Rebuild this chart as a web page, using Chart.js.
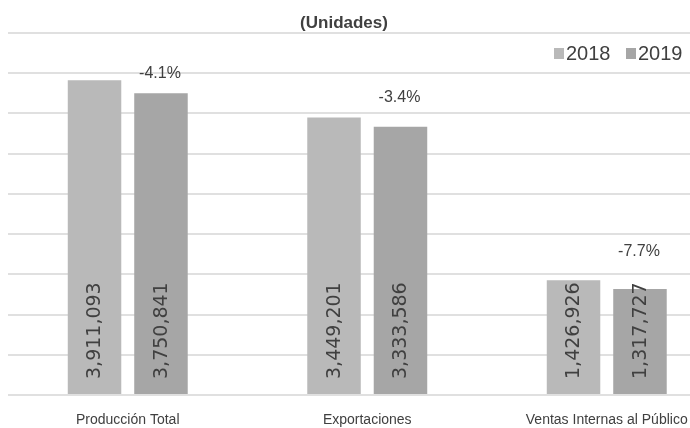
<!DOCTYPE html>
<html>
<head>
<meta charset="utf-8">
<script src="https://cdn.jsdelivr.net/npm/chart.js@4/dist/chart.umd.min.js"></script>
<style>
  html, body { margin: 0; padding: 0; background: #fff; overflow: hidden; }
  #wrap { width: 690px; height: 428px; overflow: hidden; position: relative; }
</style>
</head>
<body>
<div id="wrap">
  <canvas id="chart" width="730" height="428"></canvas>
</div>
<script>
// Datos del gráfico (unidades)
const categories = ["Producción Total", "Exportaciones", "Ventas Internas al Público"];
const seriesNames = ["2018", "2019"];
const values2018 = [3911093, 3449201, 1426926];
const values2019 = [3750841, 3333586, 1317727];
const changeLabels = ["-4.1%", "-3.4%", "-7.7%"];
const seriesColors = ["#b9b9b9", "#a6a6a6"];

const textColor = "#404040";

// Etiquetas dentro de las barras, porcentajes, título y leyenda
const annotations = {
  id: "annotations",
  afterDatasetsDraw(chart, args, opts) {
    const ctx = chart.ctx;
    ctx.save();

    // valores rotados dentro de cada barra
    ctx.font = "19px 'DejaVu Sans'";
    ctx.fillStyle = textColor;
    ctx.textAlign = "left";
    ctx.textBaseline = "middle";
    chart.data.datasets.forEach((ds, i) => {
      chart.getDatasetMeta(i).data.forEach((bar, j) => {
        ctx.save();
        ctx.translate(bar.x, bar.base - 15);
        ctx.rotate(-Math.PI / 2);
        ctx.fillText(ds.data[j].toLocaleString("en-US"), 0, 1);
        ctx.restore();
      });
    });

    // variación porcentual sobre la barra 2019
    ctx.font = "16px 'Liberation Sans'";
    ctx.textAlign = "center";
    ctx.textBaseline = "middle";
    chart.getDatasetMeta(1).data.forEach((bar, j) => {
      ctx.fillText(changeLabels[j], bar.x - 1, bar.y - opts.pctOffsets[j]);
    });

    // título
    ctx.font = "bold 17px 'Liberation Sans'";
    ctx.fillText("(Unidades)", 344, 23);

    // leyenda
    ctx.font = "20px 'Liberation Sans'";
    ctx.textAlign = "left";
    let x = 554;
    chart.data.datasets.forEach((ds) => {
      ctx.fillStyle = ds.backgroundColor;
      ctx.fillRect(x, 48, 10, 11);
      ctx.fillStyle = textColor;
      ctx.fillText(ds.label, x + 12, 54);
      x += 72;
    });

    ctx.restore();
  },
};

new Chart(document.getElementById("chart"), {
  type: "bar",
  data: {
    labels: categories,
    datasets: [
      { label: seriesNames[0], data: values2018, backgroundColor: seriesColors[0] },
      { label: seriesNames[1], data: values2019, backgroundColor: seriesColors[1] },
    ],
  },
  options: {
    responsive: false,
    animation: false,
    events: [],
    categoryPercentage: 0.555,
    barPercentage: 0.805,
    layout: { padding: { top: 33, left: 8, right: 3.5, bottom: 0 } },
    plugins: {
      legend: { display: false },
      title: { display: false },
      tooltip: { enabled: false },
      annotations: { pctOffsets: [20, 29, 37] },
    },
    scales: {
      x: {
        grid: { display: false, drawTicks: false },
        border: { display: false },
        ticks: {
          color: textColor,
          font: { family: "'Liberation Sans'", size: 14 },
          padding: 17,
          maxRotation: 0,
        },
        afterFit: (s) => { s.height = 33; },
      },
      y: {
        min: 0,
        max: 4500000,
        ticks: { stepSize: 500000, display: false },
        grid: { color: "#e0e0e0", lineWidth: 2, drawTicks: false },
        border: { display: false },
        afterFit: (s) => { s.width = 0; },
      },
    },
  },
  plugins: [annotations],
});
</script>
</body>
</html>
